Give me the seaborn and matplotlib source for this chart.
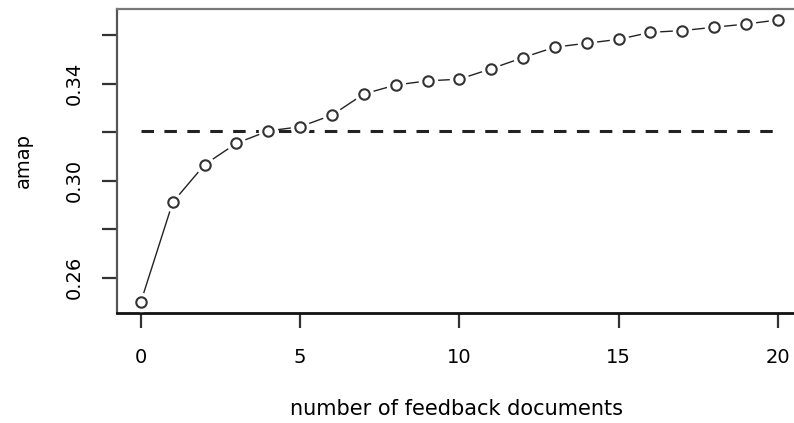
import matplotlib
matplotlib.use("Agg")
import matplotlib.pyplot as plt
import seaborn as sns
import pandas as pd

# Mean average precision versus number of feedback documents
n_docs = list(range(0, 21))
amap = [0.2501, 0.2911, 0.3066, 0.3154, 0.3205, 0.3222, 0.3270, 0.3357,
        0.3394, 0.3411, 0.3418, 0.3461, 0.3507, 0.3550, 0.3566, 0.3582,
        0.3611, 0.3618, 0.3632, 0.3645, 0.3662]
baseline = 0.3205
x_ticks = [0, 5, 10, 15, 20]
y_ticks = [0.26, 0.28, 0.30, 0.32, 0.34, 0.36]
y_tick_labels = ["0.26", "", "0.30", "", "0.34", ""]

df = pd.DataFrame({"docs": n_docs, "amap": amap})

sns.set_style("white")
plt.rcParams["font.family"] = ["DejaVu Sans"]
plt.rcParams["lines.scale_dashes"] = False

fig = plt.figure(figsize=(7.94, 4.23), dpi=100)
ax = fig.add_axes([117 / 794, 110 / 423, 680 / 794, 304 / 423])

ink = "#222222"

# baseline as a dashed horizontal line spanning the x range
ax.plot([n_docs[0], n_docs[-1]], [baseline, baseline], color=ink,
        lw=2.2, linestyle=(0, (9, 7.5)), zorder=1)

# connecting line, broken around each point by white discs
sns.lineplot(data=df, x="docs", y="amap", ax=ax, color=ink, lw=1.0,
             zorder=2)
ax.plot(df["docs"], df["amap"], linestyle="none", marker="o",
        markersize=13, markerfacecolor="white", markeredgecolor="white",
        zorder=3)
ax.plot(df["docs"], df["amap"], linestyle="none", marker="o",
        markersize=7.5, markerfacecolor="none", markeredgecolor="#333333",
        markeredgewidth=1.5, zorder=4)

ax.set_xlim(-0.75, 20.6)
ax.set_ylim(0.2455, 0.3707)
ax.set_xticks(x_ticks)
ax.set_xticklabels([str(v) for v in x_ticks])
ax.set_yticks(y_ticks)
ax.set_yticklabels(y_tick_labels, rotation=90, va="center")

ax.tick_params(axis="both", direction="out", length=11, width=1.6,
               color="#333333", labelsize=14, labelcolor="black",
               bottom=True, left=True, top=False, right=False)
ax.tick_params(axis="x", pad=14)
ax.tick_params(axis="y", pad=13)

ax.spines["left"].set_color("#555555")
ax.spines["top"].set_color("#777777")
ax.spines["bottom"].set_color("#111111")
ax.spines["left"].set_linewidth(1.6)
ax.spines["top"].set_linewidth(1.6)
ax.spines["bottom"].set_linewidth(2.0)
ax.spines["right"].set_visible(False)

ax.set_xlabel("number of feedback documents", fontsize=15, labelpad=23,
              color="black")
ax.set_ylabel("amap", fontsize=14, labelpad=23, color="black")

fig.savefig("out.png", dpi=100)
